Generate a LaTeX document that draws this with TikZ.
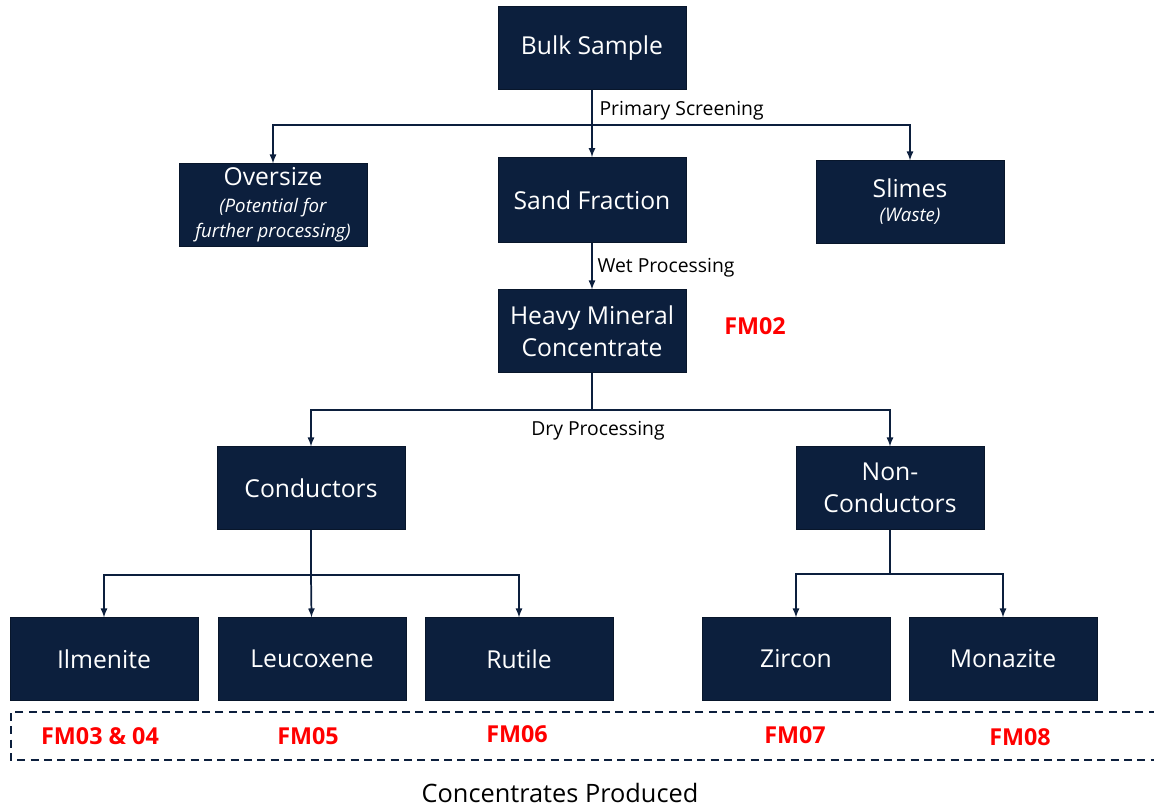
\documentclass[tikz,border=0pt]{standalone}
\usepackage{fontspec}
\setmainfont{Open Sans}
\usetikzlibrary{positioning}

\definecolor{navy}{RGB}{12,31,61}
\definecolor{fmred}{RGB}{255,0,0}

\newcommand{\subnote}{\fontsize{14}{19}\selectfont\itshape}

\tikzset{
  stagebox/.style={draw=navy!70!black, fill=navy, text=white,
    minimum width=141pt, minimum height=62pt, inner sep=2pt,
    align=center, font=\fontsize{18.5}{24}\selectfont},
  flow/.style={draw=navy, line width=1.3pt},
  steplabel/.style={font=\fontsize{14.5}{16}\selectfont, inner sep=1pt},
  fmlabel/.style={text=fmred, font=\fontsize{17.5}{20}\selectfont\bfseries},
  >=latex
}

\begin{document}
\begin{tikzpicture}[x=0.75pt, y=-0.75pt]
      \useasboundingbox (0,0) rectangle (1154,807);

      % Column positions
      \def\midX{592}
      \def\condX{311}
      \def\nonX{890}

      % Top stages
      \node[stagebox] (bulk) at (\midX,48) {Bulk Sample};
      \node[stagebox] (oversize) at (273,205)
        {Oversize\\[-4pt]\subnote (Potential for\\[-5pt]\subnote further processing)};
      \node[stagebox, minimum height=64pt] (sand) at (\midX,200) {Sand Fraction};
      \node[stagebox] (slimes) at (910,202)
        {Slimes\\[-6pt]\subnote (Waste)};
      \node[stagebox] (hmc) at (\midX,331) {Heavy Mineral\\Concentrate};
      \node[fmlabel] (fm02) at (755,326) {FM02};

      % Separation stages
      \node[stagebox] (cond) at (\condX,488) {Conductors};
      \node[stagebox] (noncond) at (\nonX,488) {Non-\\Conductors};

      % Concentrates
      \node[stagebox] (ilmenite) at (104,659) {Ilmenite};
      \node[stagebox] (leucoxene) at (312,659) {Leucoxene};
      \node[stagebox] (rutile) at (519,659) {Rutile};
      \node[stagebox] (zircon) at (796,659) {Zircon};
      \node[stagebox] (monazite) at (1003,659) {Monazite};

      % Split points
      \coordinate (screen) at (\midX,125);
      \coordinate (dry) at (\midX,410);
      \coordinate (condsplit) at (\condX,575);
      \coordinate (nonsplit) at (\nonX,574);

      \draw[flow] (bulk) -- (screen);
      \draw[flow, ->] (screen) -| (oversize.north);
      \draw[flow, ->] (screen) -- (sand);
      \draw[flow, ->] (screen) -| (slimes.north);
      \draw[flow, ->] (sand) -- (hmc);

      \draw[flow] (hmc) -- (dry);
      \draw[flow, ->] (dry) -| (cond.north);
      \draw[flow, ->] (dry) -| (noncond.north);

      \draw[flow] (cond) -- (condsplit);
      \draw[flow, ->] (condsplit) -| (ilmenite.north);
      \draw[flow, ->] (condsplit) -- (leucoxene);
      \draw[flow, ->] (condsplit) -| (rutile.north);

      \draw[flow] (noncond) -- (nonsplit);
      \draw[flow, ->] (nonsplit) -| (zircon.north);
      \draw[flow, ->] (nonsplit) -| (monazite.north);

      % Step labels
      \node[steplabel, anchor=west] (primary) at (598,111) {Primary Screening};
      \node[steplabel, anchor=west] (wet) at (596,268) {Wet Processing};
      \node[steplabel] (dryl) at (598,431) {Dry Processing};

      % Concentrate band
      \draw[navy, line width=1.3pt, dash pattern=on 6pt off 4pt]
        (1170,712) -- (11,712) -- (11,760) -- (1170,760);
      \node[fmlabel] (fm0304) at (100,736) {FM03 \& 04};
      \node[fmlabel] (fm05) at (308,736) {FM05};
      \node[fmlabel] (fm06) at (517,734) {FM06};
      \node[fmlabel] (fm07) at (795,735) {FM07};
      \node[fmlabel] (fm08) at (1020,737) {FM08};

      \node[font=\fontsize{19}{22}\selectfont] (produced) at (560,793)
        {Concentrates Produced};
\end{tikzpicture}
\end{document}
